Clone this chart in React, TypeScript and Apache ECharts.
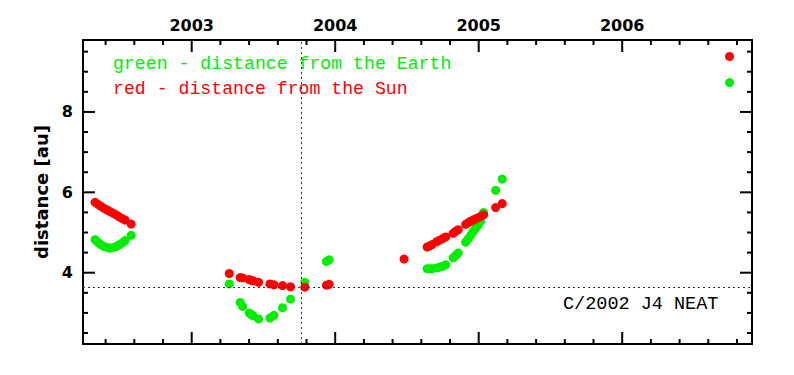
import React, { useEffect, useRef } from "react";
import * as echarts from "echarts";

// Observation epochs (decimal year) for comet C/2002 J4 NEAT
const OBS_YEAR = [
  2002.327, 2002.348, 2002.369, 2002.39, 2002.411, 2002.431, 2002.452, 2002.473, 2002.494, 2002.515, 2002.536, 2002.578,
  2003.262, 2003.338, 2003.355, 2003.401, 2003.415, 2003.427, 2003.466, 2003.545, 2003.573, 2003.633, 2003.689, 2003.788, 2003.939, 2003.958,
  2004.48, 2004.641, 2004.658, 2004.676, 2004.707, 2004.728, 2004.749, 2004.77, 2004.822, 2004.839, 2004.857, 2004.909, 2004.926, 2004.944, 2004.961, 2004.978, 2004.996, 2005.013, 2005.034, 2005.118, 2005.164,
  2006.748,
];
// Distance from the Earth [au]
const EARTH_DIST: (number | null)[] = [
  4.82, 4.75, 4.69, 4.65, 4.63, 4.61, 4.63, 4.65, 4.69, 4.74, 4.8, 4.93,
  3.72, 3.26, 3.16, 3.0, 2.96, 2.93, 2.85, 2.87, 2.94, 3.13, 3.34, 3.76, 4.28, 4.32,
  null, 4.1, 4.1, 4.1, 4.12, 4.14, 4.16, 4.2, 4.37, 4.43, 4.49, 4.76, 4.84, 4.93, 5.02, 5.1, 5.18, 5.28, 5.5, 6.05, 6.33,
  8.73,
];
// Distance from the Sun [au]
const SUN_DIST: (number | null)[] = [
  5.75, 5.7, 5.65, 5.6, 5.56, 5.52, 5.48, 5.44, 5.39, 5.35, 5.31, 5.21,
  3.98, 3.88, 3.87, 3.83, 3.81, 3.8, 3.76, 3.72, 3.7, 3.68, 3.65, 3.64, 3.69, 3.71,
  4.34, 4.64, 4.67, 4.7, 4.77, 4.81, 4.85, 4.89, 4.98, 5.03, 5.07, 5.2, 5.24, 5.28, 5.31, 5.34, 5.37, 5.4, 5.44, 5.62, 5.72,
  9.38,
];

const PERIHELION_YEAR = 2003.755;
const PERIHELION_Q = 3.637;

const X_MIN = 2002.2425;
const X_MAX = 2006.9045;
const Y_MIN = 2.226;
const Y_MAX = 9.79;

const YEAR_TICKS = [2003, 2004, 2005, 2006];
const YEAR_MINOR_TICKS = [
  2002.4, 2002.6, 2002.8, 2003.2, 2003.4, 2003.6, 2003.8, 2004.2, 2004.4, 2004.6, 2004.8,
  2005.2, 2005.4, 2005.6, 2005.8, 2006.2, 2006.4, 2006.6, 2006.8,
];
const DIST_TICKS = [4, 6, 8];
const DIST_MINOR_TICKS = [2.5, 3, 3.5, 4.5, 5, 5.5, 6.5, 7, 7.5, 8.5, 9, 9.5];

const GREEN = "#00ee00";
const RED = "#ff0000";

const LEGEND_GREEN = "green - distance from the Earth";
const LEGEND_RED = "red - distance from the Sun";
const OBJECT_NAME = "C/2002 J4 NEAT";

function pairs(dist: (number | null)[]) {
  const out: number[][] = [];
  OBS_YEAR.forEach((y, i) => {
    const d = dist[i];
    if (d != null) out.push([y, d]);
  });
  return out;
}

// tick rows: [value, isMajor, isYAxis]
function tickRows() {
  const rows: number[][] = [];
  YEAR_TICKS.forEach((v) => rows.push([v, 1, 0]));
  YEAR_MINOR_TICKS.forEach((v) => rows.push([v, 0, 0]));
  DIST_TICKS.forEach((v) => rows.push([v, 1, 1]));
  DIST_MINOR_TICKS.forEach((v) => rows.push([v, 0, 1]));
  return rows;
}

export default function App() {
  const ref = useRef<HTMLDivElement>(null);

  useEffect(() => {
    if (!ref.current) return;
    const chart = echarts.init(ref.current, undefined, { renderer: "svg" });

    const line = { show: true, onZero: false, lineStyle: { color: "#000", width: 2 } };
    const labelFont = {
      fontFamily: "DejaVu Sans",
      fontWeight: "bold" as const,
      fontSize: 16,
      color: "#000",
    };

    const xBase = {
      type: "value" as const,
      min: X_MIN,
      max: X_MAX,
      splitLine: { show: false },
      axisTick: { show: false },
    };
    const yBase = {
      type: "value" as const,
      min: Y_MIN,
      max: Y_MAX,
      splitLine: { show: false },
      axisTick: { show: false },
    };

    const tickStyle = { stroke: "#000", lineWidth: 2 };

    chart.setOption({
      animation: false,
      backgroundColor: "#fff",
      grid: { left: 83, right: 42, top: 40, bottom: 31, containLabel: false },
      xAxis: [
        { ...xBase, position: "bottom", axisLine: line, axisLabel: { show: false } },
        {
          ...xBase,
          position: "top",
          axisLine: line,
          axisLabel: { show: true, customValues: YEAR_TICKS, margin: 7, formatter: (v: number) => String(Math.round(v)), ...labelFont },
        },
      ],
      yAxis: [
        {
          ...yBase,
          position: "left",
          axisLine: line,
          axisLabel: { show: true, customValues: DIST_TICKS, margin: 10, formatter: (v: number) => String(Math.round(v)), ...labelFont },
          name: "distance [au]",
          nameLocation: "middle",
          nameGap: 27,
          nameRotate: 90,
          nameTextStyle: { fontFamily: "DejaVu Sans", fontWeight: "bold", fontSize: 18, color: "#000" },
        },
        { ...yBase, position: "right", axisLine: line, axisLabel: { show: false } },
      ],
      series: [
        {
          type: "custom",
          name: "ticks",
          xAxisIndex: 0,
          yAxisIndex: 0,
          silent: true,
          clip: false,
          z: 10,
          data: tickRows(),
          renderItem: (_params: any, api: any) => {
            const v = api.value(0);
            const len = api.value(1) ? 12 : 5;
            const isY = api.value(2);
            if (!isY) {
              const b = api.coord([v, Y_MIN]);
              const t = api.coord([v, Y_MAX]);
              return {
                type: "group",
                children: [
                  { type: "line", shape: { x1: b[0], y1: b[1], x2: b[0], y2: b[1] - len }, style: tickStyle },
                  { type: "line", shape: { x1: t[0], y1: t[1], x2: t[0], y2: t[1] + len }, style: tickStyle },
                ],
              };
            }
            const l = api.coord([X_MIN, v]);
            const r = api.coord([X_MAX, v]);
            return {
              type: "group",
              children: [
                { type: "line", shape: { x1: l[0], y1: l[1], x2: l[0] + len, y2: l[1] }, style: tickStyle },
                { type: "line", shape: { x1: r[0], y1: r[1], x2: r[0] - len, y2: r[1] }, style: tickStyle },
              ],
            };
          },
        },
        {
          type: "scatter",
          name: "Earth",
          xAxisIndex: 0,
          yAxisIndex: 0,
          symbol: "circle",
          symbolSize: 9,
          itemStyle: { color: GREEN, opacity: 1 },
          data: pairs(EARTH_DIST),
          z: 3,
          markLine: {
            silent: true,
            symbol: "none",
            label: { show: false },
            lineStyle: { color: "#333", width: 1, type: [2, 3] },
            data: [{ xAxis: PERIHELION_YEAR }, { yAxis: PERIHELION_Q }],
          },
        },
        {
          type: "scatter",
          name: "Sun",
          xAxisIndex: 0,
          yAxisIndex: 0,
          symbol: "circle",
          symbolSize: 9,
          itemStyle: { color: RED, opacity: 1 },
          data: pairs(SUN_DIST),
          z: 4,
        },
      ],
      graphic: [
        {
          type: "text",
          left: 113,
          top: 55,
          style: { text: LEGEND_GREEN, fill: GREEN, font: "18.2px 'Liberation Mono', monospace" },
        },
        {
          type: "text",
          left: 113,
          top: 80,
          style: { text: LEGEND_RED, fill: RED, font: "18.2px 'Liberation Mono', monospace" },
        },
        {
          type: "text",
          left: 563,
          top: 295,
          style: { text: OBJECT_NAME, fill: "#000", font: "18.5px 'Liberation Mono', monospace" },
        },
      ],
    });

    return () => chart.dispose();
  }, []);

  return (
    <div
      ref={ref}
      style={{ position: "fixed", left: 0, top: 0, width: 794, height: 375, background: "#fff" }}
    />
  );
}
